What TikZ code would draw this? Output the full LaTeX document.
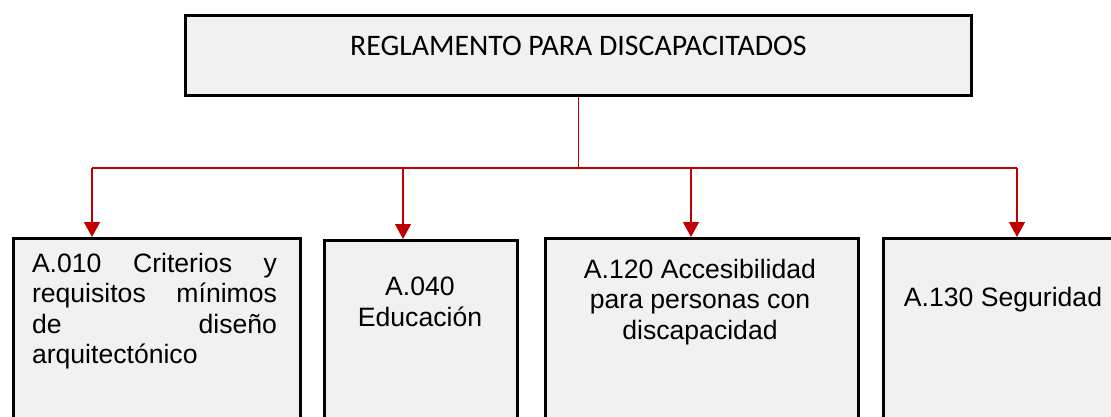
\documentclass[tikz,border=0pt]{standalone}
\usepackage{fontspec}
\setmainfont{Liberation Sans}
\newfontfamily\calibri{Carlito}
\usetikzlibrary{arrows.meta,positioning}
\definecolor{boxgray}{HTML}{F1F1F1}
\definecolor{linkred}{HTML}{C00000}
\tikzset{
	box/.style={draw=black, line width=2.7pt, fill=boxgray, anchor=north west, inner sep=0pt},
	txt/.style={font=\fontsize{26.6}{30.5}\selectfont, inner sep=0pt, align=center},
	link/.style={draw=linkred, line width=1.3pt},
	tip/.style={link, -{Triangle[length=15pt, width=16pt]}}
}
\begin{document}
\begin{tikzpicture}[x=1pt, y=-1pt]
		\clip (0,0) rectangle (1111,417);

		\node[box, minimum width=786pt, minimum height=80pt, text height=20pt, text depth=20pt,
			font=\calibri\fontsize{29.8}{34}\selectfont] (reg) at (184,14) {REGLAMENTO PARA DISCAPACITADOS};

		\node[box, minimum width=287pt, minimum height=220pt] (b1) at (12,237) {};
		\node[box, minimum width=193pt, minimum height=220pt] (b2) at (323,239) {};
		\node[box, minimum width=313pt, minimum height=220pt] (b3) at (544,237) {};
		\node[box, minimum width=260pt, minimum height=220pt] (b4) at (882,237) {};

		\node[txt, text width=245pt, align=left] (t1) at (154.5,311)
			{A.010\hfill Criterios\hfill y\\requisitos\hfill mínimos\\de\hfill diseño\\arquitectónico};
		\node[txt] (t2) at (420,302) {A.040\\Educación};
		\node[txt] (t3) at (700,302) {A.120 Accesibilidad\\para personas con\\discapacidad};
		\node[txt] (t4) at (1003,300) {A.130 Seguridad};

		\coordinate (l1) at (92,168);
		\coordinate (l2) at (403,168);
		\coordinate (l3) at (691,168);
		\coordinate (l4) at (1017,168);
		\coordinate (hub) at (reg.south |- l1);

		\draw[link] (reg.south) -- (hub);
		\draw[link] (l1) -- (l4);
		\foreach \i in {1,...,4}
			\draw[tip] (l\i) -- (l\i |- b\i.north);
	\end{tikzpicture}
\end{document}
